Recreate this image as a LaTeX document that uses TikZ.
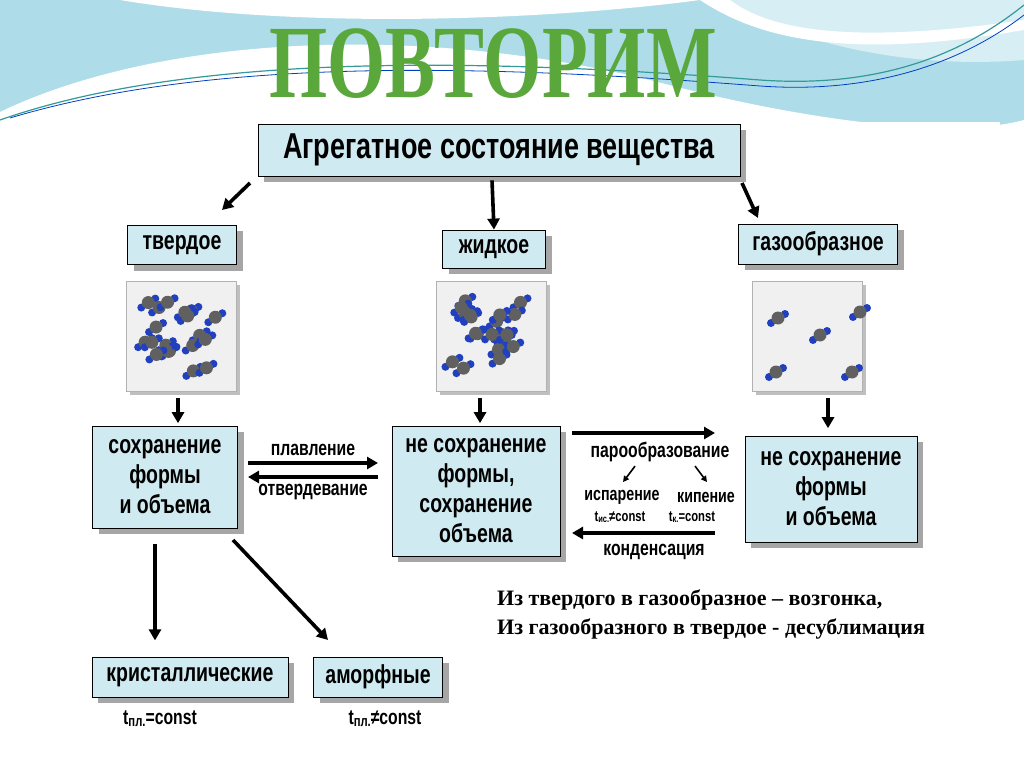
\documentclass[tikz,border=0pt]{standalone}
\usepackage{fontspec}
\setmainfont{Liberation Serif}
\newfontfamily\cond[FakeStretch=0.75]{Liberation Sans}
\newfontfamily\titlefont[FakeStretch=0.72]{Liberation Serif}
\usetikzlibrary{arrows.meta,shadows}
\definecolor{boxfill}{HTML}{CFEAF0}
\definecolor{titlegreen}{HTML}{5AA83C}
\definecolor{wave}{HTML}{8CCFE0}
\definecolor{molgray}{HTML}{606060}
\definecolor{molblue}{HTML}{2040C0}
\tikzset{
  statebox/.style={draw=black,fill=boxfill,line width=0.8pt,align=center,
    font=\cond\bfseries\fontsize{26}{30}\selectfont,inner sep=4pt,
    drop shadow={shadow xshift=6pt,shadow yshift=-6pt,fill=gray!70,opacity=1}},
  picbox/.style={draw=gray!60,fill=gray!12,minimum width=110pt,minimum height=110pt,
    drop shadow={shadow xshift=4pt,shadow yshift=-4pt,fill=gray!50,opacity=1}},
  thick arrow/.style={-{Triangle[length=11pt,width=12pt]},line width=3.6pt},
  thin arrow/.style={-{Triangle[length=6pt,width=6pt]},line width=1.6pt},
  lbl/.style={font=\cond\bfseries\fontsize{21}{24}\selectfont,inner sep=1pt},
  sublbl/.style={font=\cond\bfseries\fontsize{15}{17}\selectfont,inner sep=1pt}
}
\newcommand{\molecule}[2]{%
  \fill[molblue] (#1+7,#2-4) circle (4pt);
  \fill[molblue] (#1-7,#2+5) circle (4pt);
  \fill[molgray] (#1,#2) circle (6.5pt);}
\begin{document}
\begin{tikzpicture}[x=1pt,y=-1pt]
\useasboundingbox (0,0) rectangle (1024,767);
% background waves
\fill[wave!70] (0,0) rectangle (1024,130);
\fill[white] (0,112) .. controls (150,40) and (400,20) .. (650,80) .. controls (800,120) and (950,140) .. (1024,120) -- (1024,767) -- (0,767) -- cycle;
\fill[white] (120,0) .. controls (300,30) and (550,20) .. (700,0) -- cycle;
\fill[wave!35] (720,0) .. controls (790,40) and (900,70) .. (1024,60) -- (1024,0) -- cycle;
\fill[white] (700,0) .. controls (760,40) and (850,60) .. (1024,30) -- (1024,20) .. controls (850,45) and (770,30) .. (730,0) -- cycle;
\draw[teal!80,line width=1.2pt] (0,120) .. controls (200,50) and (500,60) .. (760,80) .. controls (900,90) and (980,40) .. (1024,5);
\draw[blue!50!teal,line width=0.8pt] (10,118) .. controls (220,55) and (500,66) .. (760,86) .. controls (900,96) and (985,45) .. (1024,15);
\fill[white] (92,122) rectangle (1000,740);
\node[font=\titlefont\bfseries\fontsize{104}{104}\selectfont,text=titlegreen] (title) at (493,64) {ПОВТОРИМ};
% boxes
\node[statebox,font=\cond\bfseries\fontsize{36}{40}\selectfont,minimum width=482pt,minimum height=52pt] (agg) at (499,150) {Агрегатное состояние вещества};
\node[statebox,minimum width=109pt,minimum height=39pt] (solid) at (182,245) {твердое};
\node[statebox,minimum width=103pt,minimum height=38pt] (liquid) at (494,249) {жидкое};
\node[statebox,minimum width=159pt,minimum height=40pt] (gas) at (818,244) {газообразное};
\node[picbox] (psolid) at (181,336) {};
\node[picbox] (pliquid) at (491,336) {};
\node[picbox] (pgas) at (807,336) {};
\node[statebox,minimum width=145pt,minimum height=102pt] (ssolid) at (165,477) {сохранение\\формы\\и объема};
\node[statebox,minimum width=168pt,minimum height=130pt] (sliquid) at (476,491) {не сохранение\\формы,\\сохранение\\объема};
\node[statebox,minimum width=172pt,minimum height=106pt] (sgas) at (831,489) {не сохранение\\формы\\и объема};
\node[statebox,minimum width=196pt,minimum height=40pt] (cryst) at (190,677) {кристаллические};
\node[statebox,minimum width=129pt,minimum height=40pt] (amorph) at (378,677) {аморфные};
\node[lbl] (tcr) at (160,719) {t\raisebox{-2pt}{\fontsize{15}{16}\selectfont пл.}=const};
\node[lbl] (tam) at (385,719) {t\raisebox{-2pt}{\fontsize{15}{16}\selectfont пл.}≠const};
% molecules
\pgfmathsetseed{11}
\foreach \i in {1,...,20} {
  \pgfmathsetmacro{\mx}{142+rnd*78}\pgfmathsetmacro{\my}{297+rnd*78}
  \molecule{\mx}{\my}
}
\foreach \i in {1,...,20} {
  \pgfmathsetmacro{\mx}{452+rnd*78}\pgfmathsetmacro{\my}{297+rnd*78}
  \molecule{\mx}{\my}
}
\foreach \mx/\my in {778/318,860/312,820/335,776/372,852/372} {
  \molecule{\mx}{\my}
}
% arrows
\coordinate (a1) at (250,183); \coordinate (a2) at (222,210);
\draw[thick arrow] (a1) -- (a2);
\draw[thick arrow] (agg.south -| liquid) ++(-2,4) -- (liquid.north);
\coordinate (a3) at (742,183); \coordinate (a4) at (758,218);
\draw[thick arrow] (a3) -- (a4);
\draw[thick arrow] (psolid.south) ++(-3,7) -- ++(0,25);
\draw[thick arrow] (pliquid.south) ++(-11,7) -- ++(0,25);
\draw[thick arrow] (pgas.south) ++(21,7) -- ++(0,30);
\coordinate (m1) at (248,463); \coordinate (m2) at (378,463);
\draw[thick arrow] (m1) -- (m2) node[lbl,midway,above=4pt] (melt) {плавление};
\coordinate (m3) at (378,477); \coordinate (m4) at (248,477);
\draw[thick arrow] (m3) -- (m4) node[lbl,midway,below=4pt] (freeze) {отвердевание};
\coordinate (v1) at (572,433); \coordinate (v2) at (715,433);
\draw[thick arrow] (v1) -- (v2);
\node[lbl] (vap) at (660,452) {парообразование};
\node[lbl,font=\cond\bfseries\fontsize{19}{21}\selectfont] (evap) at (622,497) {испарение};
\node[lbl,font=\cond\bfseries\fontsize{19}{21}\selectfont] (boil) at (706,497) {кипение};
\draw[thin arrow] (vap.south) ++(-25,3) -- ++(-12,16);
\draw[thin arrow] (vap.south) ++(35,3) -- ++(12,16);
\node[sublbl] (tevap) at (620,517) {t\raisebox{-1pt}{\fontsize{10}{11}\selectfont ис.}≠const};
\node[sublbl] (tboil) at (692,517) {t\raisebox{-1pt}{\fontsize{10}{11}\selectfont к.}=const};
\coordinate (c1) at (715,533); \coordinate (c2) at (572,533);
\draw[thick arrow] (c1) -- (c2);
\node[lbl] (cond) at (654,552) {конденсация};
\draw[thick arrow] (ssolid.south) ++(-10,16) -- ++(0,96);
\coordinate (b1) at (233,540); \coordinate (b2) at (328,640);
\draw[thick arrow] (b1) -- (b2);
% text
\node[font=\bfseries\fontsize{22}{29}\selectfont,align=left,anchor=north west,inner sep=0pt] (sub) at (497,590)
  {Из твердого в газообразное – возгонка,\\Из газообразного в твердое - десублимация};
\end{tikzpicture}
\end{document}
